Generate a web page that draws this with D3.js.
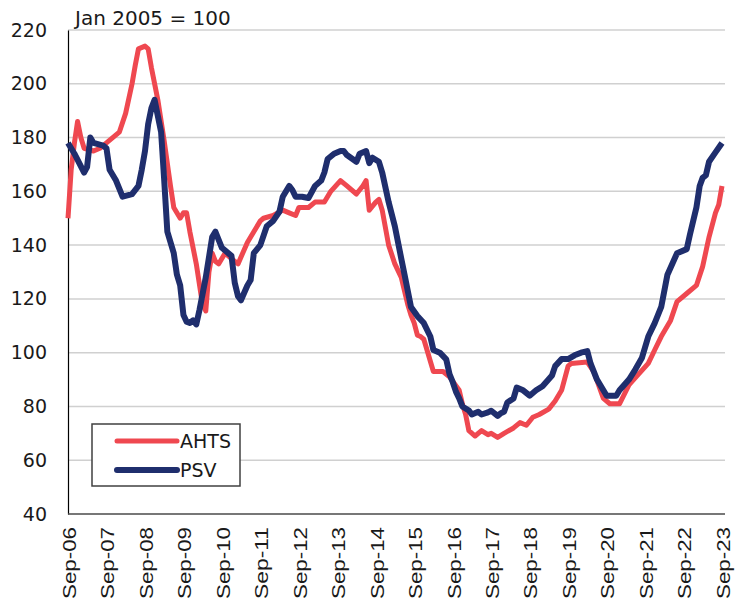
<!DOCTYPE html>
<html>
<head>
<meta charset="utf-8">
<script src="https://cdn.jsdelivr.net/npm/d3@7"></script>
<style>
  body { margin: 0; background: #fff; }
</style>
</head>
<body>
<div id="chart"></div>
<script>
// --------------- Data ---------------

const ahtsDates = ["2006-09", "2006-10", "2006-11", "2006-12", "2007-01", "2007-02", "2007-05", "2007-07", "2007-09", "2008-01",
  "2008-03", "2008-05", "2008-06", "2008-07", "2008-09", "2008-10", "2008-11", "2009-01", "2009-03", "2009-05",
  "2009-06", "2009-08", "2009-09", "2009-10", "2009-11", "2010-01", "2010-03", "2010-04", "2010-05", "2010-06",
  "2010-07", "2010-08", "2010-09", "2010-10", "2010-12", "2011-02", "2011-05", "2011-07", "2011-09", "2011-10",
  "2012-01", "2012-04", "2012-06", "2012-08", "2012-09", "2012-12", "2013-02", "2013-05", "2013-07", "2013-10",
  "2013-12", "2014-03", "2014-05", "2014-06", "2014-07", "2014-09", "2014-10", "2014-11", "2015-01", "2015-03",
  "2015-05", "2015-07", "2015-08", "2015-09", "2015-10", "2015-11", "2015-12", "2016-03", "2016-06", "2016-08",
  "2016-11", "2016-12", "2017-01", "2017-02", "2017-04", "2017-06", "2017-08", "2017-09", "2017-11", "2018-01",
  "2018-04", "2018-06", "2018-08", "2018-10", "2018-12", "2019-03", "2019-05", "2019-07", "2019-09", "2019-10",
  "2020-03", "2020-05", "2020-08", "2020-10", "2021-01", "2021-04", "2021-07", "2021-10", "2021-12", "2022-02",
  "2022-05", "2022-07", "2022-10", "2023-01", "2023-03", "2023-05", "2023-07", "2023-08", "2023-09"];
const ahtsValues = [150, 168, 178, 186, 180, 176, 175, 176, 178, 182,
  189, 200, 207, 213, 214, 213, 206, 194, 179, 162,
  154, 150, 152, 152, 145, 133, 118, 115.5, 130, 137,
  134, 133, 135, 137, 135, 133, 141, 145, 149, 150,
  151, 153, 152, 151, 154, 154, 156, 156, 160, 164,
  162, 159, 162, 164, 153, 156, 157, 153, 140, 133,
  128, 118, 114, 111, 106.5, 106, 105, 93, 93, 91,
  86, 81, 77, 71, 69, 71, 69.5, 70, 68.5, 70,
  72, 74, 73, 76, 77, 79, 82, 86, 95, 96,
  96.5, 93, 83, 81, 81, 88, 92, 96, 101, 106,
  112, 119, 122, 125, 132, 143, 152, 155, 162];

const psvDates = ["2006-09", "2006-11", "2007-02", "2007-03", "2007-04", "2007-05", "2007-08", "2007-09", "2007-10", "2007-12",
  "2008-02", "2008-05", "2008-07", "2008-08", "2008-09", "2008-10", "2008-11", "2008-12", "2009-02", "2009-03",
  "2009-04", "2009-06", "2009-07", "2009-08", "2009-09", "2009-10", "2009-11", "2009-12", "2010-01", "2010-02",
  "2010-04", "2010-06", "2010-07", "2010-09", "2010-12", "2011-01", "2011-02", "2011-03", "2011-05", "2011-06",
  "2011-07", "2011-09", "2011-11", "2012-01", "2012-03", "2012-04", "2012-06", "2012-07", "2012-08", "2012-10",
  "2012-12", "2013-02", "2013-04", "2013-05", "2013-06", "2013-08", "2013-10", "2013-11", "2013-12", "2014-03",
  "2014-04", "2014-06", "2014-07", "2014-08", "2014-10", "2014-11", "2015-01", "2015-03", "2015-05", "2015-06",
  "2015-08", "2015-10", "2015-12", "2016-02", "2016-03", "2016-05", "2016-07", "2016-08", "2016-09", "2016-10",
  "2016-11", "2016-12", "2017-02", "2017-03", "2017-05", "2017-06", "2017-08", "2017-09", "2017-11", "2017-12",
  "2018-01", "2018-02", "2018-04", "2018-05", "2018-07", "2018-09", "2018-11", "2019-01", "2019-04", "2019-05",
  "2019-07", "2019-09", "2019-11", "2020-01", "2020-03", "2020-04", "2020-06", "2020-09", "2020-12", "2021-01",
  "2021-04", "2021-06", "2021-08", "2021-10", "2021-12", "2022-02", "2022-04", "2022-07", "2022-10", "2022-11",
  "2023-01", "2023-02", "2023-03", "2023-04", "2023-05", "2023-07", "2023-09"];
const psvValues = [178, 174, 167, 169, 180, 178, 177, 176, 168, 164,
  158, 159, 162, 168, 175, 185, 191, 194, 182, 165,
  145, 137, 129, 125, 114, 111.5, 111, 112, 110.5, 116,
  128, 143, 145, 139, 136, 126, 121, 119.5, 125, 127,
  137, 140, 147, 149, 152.5, 158, 162, 160.5, 158, 158,
  157.5, 162, 164, 167, 172, 174, 175, 175, 173.5, 171,
  174, 175, 170.5, 172.5, 171, 167, 156, 147, 135, 129,
  117, 113.6, 111, 106, 101, 100, 97.5, 92, 89, 85.5,
  83, 80, 78.5, 77, 78, 77, 77.8, 78.4, 76.5, 77.5,
  78, 81.5, 83, 87, 86, 84, 86, 87.5, 91.5, 95,
  97.6, 97.6, 99, 100, 100.6, 96, 90, 84, 84, 86,
  90, 93.8, 98, 106, 111, 117, 129, 137, 138.5, 144,
  154, 162, 165, 166, 171, 174.5, 178];

const yTicks = [40, 60, 80, 100, 120, 140, 160, 180, 200, 220];
const xTickDates = ["2006-09", "2007-09", "2008-09", "2009-09", "2010-09", "2011-09", "2012-09", "2013-09", "2014-09",
  "2015-09", "2016-09", "2017-09", "2018-09", "2019-09", "2020-09", "2021-09", "2022-09", "2023-09"];
const seriesNames = ["AHTS", "PSV"];

// --------------- Constants ---------------

const WIDTH = 735;
const HEIGHT = 605;
const PLOT = { left: 68, right: 722, top: 30, bottom: 514, gridRight: 725 };
const COLORS = { AHTS: "#EF4850", PSV: "#1F2E6D" };
const LINE_WIDTHS = { AHTS: 5, PSV: 6 };
const TEXT_COLOR = "#1a1a1a";
const MAIN_FONT = "'DejaVu Sans', sans-serif";
const LABEL_FONT = "'Liberation Sans', Arial, sans-serif";

const parseMonth = d3.timeParse("%Y-%m");

// --------------- Scales ---------------

const x = d3
  .scaleTime()
  .domain([parseMonth("2006-09"), parseMonth("2023-09")])
  .range([PLOT.left, PLOT.right]);

const y = d3.scaleLinear().domain([40, 220]).range([PLOT.bottom, PLOT.top]);

const svg = d3
  .select("#chart")
  .append("svg")
  .attr("width", WIDTH)
  .attr("height", HEIGHT)
  .style("font-family", MAIN_FONT);

// --------------- Grid ---------------

svg
  .append("g")
  .selectAll("line")
  .data(yTicks.filter((t) => t > 40))
  .join("line")
  .attr("x1", PLOT.left)
  .attr("x2", PLOT.gridRight)
  .attr("y1", (d) => y(d))
  .attr("y2", (d) => y(d))
  .attr("stroke", "#d0d0d0")
  .attr("stroke-width", 1.5);

// --------------- Axes ---------------

const yAxis = svg
  .append("g")
  .attr("transform", `translate(${PLOT.left},0)`)
  .call(d3.axisLeft(y).tickValues(yTicks).tickSize(0).tickSizeOuter(0).tickPadding(21));
yAxis.select(".domain").attr("stroke", "#000").attr("stroke-width", 1.2);
yAxis
  .selectAll("text")
  .attr("fill", TEXT_COLOR)
  .style("font-family", MAIN_FONT)
  .style("font-size", "19px");

const xAxis = svg
  .append("g")
  .attr("transform", `translate(0,${PLOT.bottom})`)
  .call(
    d3
      .axisBottom(x)
      .tickValues(xTickDates.map(parseMonth))
      .tickFormat(d3.timeFormat("%b-%y"))
      .tickSize(0)
      .tickSizeOuter(0)
  );
xAxis.select(".domain").remove();
xAxis
  .selectAll("text")
  .attr("transform", "rotate(-90)")
  .attr("x", -13)
  .attr("y", 1)
  .attr("dy", "0.35em")
  .attr("textLength", 72)
  .attr("lengthAdjust", "spacingAndGlyphs")
  .attr("fill", TEXT_COLOR)
  .style("text-anchor", "end")
  .style("font-family", LABEL_FONT)
  .style("font-size", "18px");

// bottom axis line runs a bit past the last point, like the grid
svg
  .append("line")
  .attr("x1", PLOT.left)
  .attr("x2", PLOT.gridRight)
  .attr("y1", PLOT.bottom)
  .attr("y2", PLOT.bottom)
  .attr("stroke", "#4a4a4a")
  .attr("stroke-width", 1.5);

// --------------- Lines ---------------

const line = d3
  .line()
  .x((d) => x(d.date))
  .y((d) => y(d.value));

const series = [
  { name: "AHTS", dates: ahtsDates, values: ahtsValues },
  { name: "PSV", dates: psvDates, values: psvValues },
];

series.forEach((s) => {
  const points = s.dates.map((d, i) => ({ date: parseMonth(d), value: s.values[i] }));
  svg
    .append("path")
    .datum(points)
    .attr("d", line)
    .attr("fill", "none")
    .attr("stroke", COLORS[s.name])
    .attr("stroke-width", LINE_WIDTHS[s.name])
    .attr("stroke-linejoin", "round")
    .attr("stroke-linecap", "butt");
});

// --------------- Title ---------------

svg
  .append("text")
  .attr("x", 75)
  .attr("y", 25)
  .attr("fill", TEXT_COLOR)
  .style("font-size", "20px")
  .text("Jan 2005 = 100");

// --------------- Legend ---------------

const legend = svg.append("g").attr("transform", "translate(92,424)");
legend
  .append("rect")
  .attr("width", 148)
  .attr("height", 62)
  .attr("fill", "#fff")
  .attr("stroke", "#404040")
  .attr("stroke-width", 1.5);

seriesNames.forEach((name, i) => {
  const ly = 17 + i * 29;
  legend
    .append("line")
    .attr("x1", 25)
    .attr("x2", 85)
    .attr("y1", ly)
    .attr("y2", ly)
    .attr("stroke", COLORS[name])
    .attr("stroke-width", LINE_WIDTHS[name])
    .attr("stroke-linecap", "round");
  legend
    .append("text")
    .attr("x", 88)
    .attr("y", ly)
    .attr("dy", "0.36em")
    .attr("fill", TEXT_COLOR)
    .style("font-size", "19px")
    .text(name);
});
</script>
</body>
</html>
